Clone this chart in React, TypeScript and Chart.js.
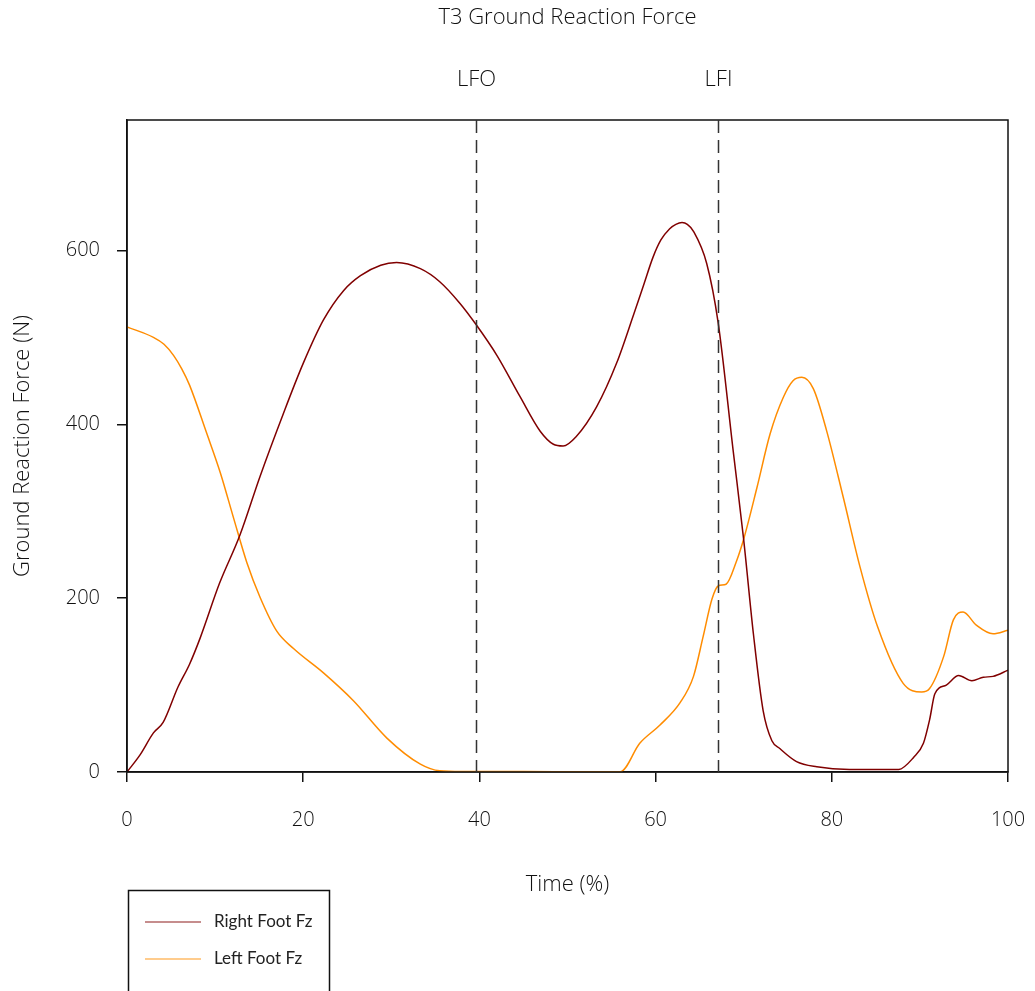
import React, { useEffect, useRef } from "react";
import { Chart, registerables } from "chart.js";

Chart.register(...registerables);

const chartTitle = "T3 Ground Reaction Force";
const xAxisTitle = "Time (%)";
const yAxisTitle = "Ground Reaction Force (N)";

const rightLabel = "Right Foot Fz";
const rightTime = [0, 1.5, 3.0, 4.1, 5.8, 7.1, 8.3, 10.5, 12.8, 15.1, 17.7, 20.0, 22.3, 24.6, 26.5, 28.8, 30.6, 33.3, 35.5, 37.8, 39.6, 42.0, 44.6, 46.9, 48.4, 49.5, 51.0, 53.3, 55.6, 57.5, 58.7, 59.7, 60.6, 61.6, 62.3, 63.0, 63.6, 64.3, 65.8, 67.1, 68.8, 70.0, 71.1, 72.2, 73.2, 74.1, 76.0, 78.3, 82.0, 85.5, 87.6, 89.3, 90.4, 91.1, 91.7, 93.0, 94.4, 95.9, 97.2, 98.3, 100];
const rightForce = [0, 20, 45, 57, 98, 124, 154, 217, 272, 340, 411, 470, 520, 554, 571, 583, 586, 579, 564, 539, 515, 479, 432, 392, 377, 375, 386, 420, 471, 526, 562, 592, 612, 625, 630, 632, 630, 622, 585, 517, 370, 267, 159, 71, 36, 27, 12, 6, 3, 3, 3, 17, 33, 60, 90, 100, 111, 105, 109, 110, 117];

const leftLabel = "Left Foot Fz";
const leftTime = [0, 3.0, 4.2, 5.3, 6.2, 7.1, 9.0, 10.6, 12.1, 13.6, 15.1, 17.0, 18.9, 22.3, 25.7, 29.5, 33.3, 35.5, 38, 45, 52, 56.0, 58.2, 60.5, 62.8, 64.3, 65.4, 66.4, 67.1, 68.0, 69.2, 70.0, 71.5, 73.0, 74.5, 75.6, 76.6, 77.9, 79.4, 81.3, 83.2, 85.2, 88.1, 90.2, 91.1, 92.7, 93.8, 94.9, 96.4, 98.3, 100];
const leftForce = [512, 500, 492, 479, 464, 445, 391, 344, 292, 241, 201, 162, 142, 114, 82, 39, 9, 1.3, 0.5, 0.5, 0.3, 0.3, 33, 54, 80, 110, 156, 199, 214, 216, 243, 268, 327, 389, 431, 450, 454, 441, 393, 316, 236, 167, 102, 92, 96, 133, 175, 184, 169, 159, 163];

const eventLabels = ["LFO", "LFI"];
const eventTimes = [39.6, 67.1];

const xTicks = [0, 20, 40, 60, 80, 100];
const yTicks = [0, 200, 400, 600];

const RED = "#800000";
const ORANGE = "#ff8c00";
const FONT = "'Open Sans', 'Noto Sans', sans-serif";
const LEGEND_FONT = "Lato, 'Open Sans', sans-serif";
const TEXT = "#111";

const overlayPlugin = {
  id: "overlay",
  afterDraw(chart: any) {
    const { ctx, chartArea } = chart;
    const xs = chart.scales.x;
    ctx.save();
    // frame
    ctx.strokeStyle = "#111";
    ctx.lineWidth = 1.5;
    ctx.strokeRect(chartArea.left, chartArea.top, chartArea.right - chartArea.left, chartArea.bottom - chartArea.top);

    // events
    ctx.setLineDash([13, 7]);
    ctx.strokeStyle = "#333";
    ctx.lineWidth = 1.5;
    ctx.fillStyle = TEXT;
    ctx.font = `300 22px ${FONT}`;
    ctx.textAlign = "center";
    ctx.textBaseline = "middle";
    eventTimes.forEach((t, i) => {
      const px = Math.round(xs.getPixelForValue(t)) + 0.5;
      ctx.beginPath();
      ctx.moveTo(px, chartArea.top);
      ctx.lineTo(px, chartArea.bottom);
      ctx.stroke();
      ctx.fillText(eventLabels[i], px, 80);
    });
    ctx.setLineDash([]);

    // title
    ctx.fillText(chartTitle, (chartArea.left + chartArea.right) / 2, 18);

    // legend
    ctx.strokeStyle = "#111";
    ctx.lineWidth = 1.5;
    ctx.strokeRect(128.5, 890.5, 201, 120);
    const items = [
      { label: rightLabel, color: RED, y: 922 },
      { label: leftLabel, color: ORANGE, y: 959 },
    ];
    ctx.font = `17px ${LEGEND_FONT}`;
    ctx.textAlign = "left";
    items.forEach((it) => {
      ctx.strokeStyle = it.color;
      ctx.globalAlpha = 0.6;
      ctx.lineWidth = 1.5;
      ctx.beginPath();
      ctx.moveTo(145, it.y);
      ctx.lineTo(201, it.y);
      ctx.stroke();
      ctx.globalAlpha = 1;
      ctx.fillStyle = "#222";
      ctx.fillText(it.label, 214, it.y);
    });
    ctx.restore();
  },
};

export default function App() {
  const canvasRef = useRef<HTMLCanvasElement | null>(null);

  useEffect(() => {
    if (!canvasRef.current) return;
    const chart = new Chart(canvasRef.current, {
      type: "line",
      data: {
        datasets: [
          {
            label: rightLabel,
            data: rightTime.map((t, i) => ({ x: t, y: rightForce[i] })),
            borderColor: RED,
            backgroundColor: RED,
            borderWidth: 1.5,
            pointRadius: 0,
            cubicInterpolationMode: "monotone",
          },
          {
            label: leftLabel,
            data: leftTime.map((t, i) => ({ x: t, y: leftForce[i] })),
            borderColor: ORANGE,
            backgroundColor: ORANGE,
            borderWidth: 1.5,
            pointRadius: 0,
            cubicInterpolationMode: "monotone",
          },
        ],
      },
      options: {
        animation: false,
        responsive: false,
        maintainAspectRatio: false,
        layout: { padding: { left: 0, right: 27, top: 120, bottom: 0 } },
        plugins: {
          legend: { display: false },
          title: { display: false },
          tooltip: { enabled: false },
        },
        scales: {
          x: {
            type: "linear",
            min: 0,
            max: 100,
            afterFit: (s: any) => {
              s.height = 219;
              s.paddingLeft = 0;
              s.paddingRight = 0;
            },
            afterBuildTicks: (s: any) => {
              s.ticks = xTicks.map((v) => ({ value: v }));
            },
            ticks: { font: { family: FONT, size: 20, weight: "300" }, color: TEXT, padding: 26, maxRotation: 0 },
            grid: { drawOnChartArea: false, drawTicks: true, tickLength: 10, color: "#111", lineWidth: 1.5 },
            border: { display: true, color: "#111", width: 1.5 },
            title: { display: true, text: xAxisTitle, font: { family: FONT, size: 22, weight: "300" }, color: TEXT, padding: { top: 0, bottom: 93 } },
          },
          y: {
            type: "linear",
            min: 0,
            max: 750,
            afterFit: (s: any) => {
              s.width = 127;
            },
            afterBuildTicks: (s: any) => {
              s.ticks = yTicks.map((v) => ({ value: v }));
            },
            ticks: { font: { family: FONT, size: 20, weight: "300" }, color: TEXT, padding: 17 },
            grid: { drawOnChartArea: false, drawTicks: true, tickLength: 10, color: "#111", lineWidth: 1.5 },
            border: { display: true, color: "#111", width: 1.5 },
            title: { display: true, text: yAxisTitle, font: { family: FONT, size: 22, weight: "300" }, color: TEXT, padding: { top: 10, bottom: 0 } },
          },
        },
      },
      plugins: [overlayPlugin],
    } as any);
    return () => chart.destroy();
  }, []);

  return (
    <div style={{ position: "absolute", left: 0, top: 0, width: 1035, height: 991, background: "#fff" }}>
      <canvas ref={canvasRef} width={1035} height={991} style={{ width: 1035, height: 991, display: "block" }} />
    </div>
  );
}
